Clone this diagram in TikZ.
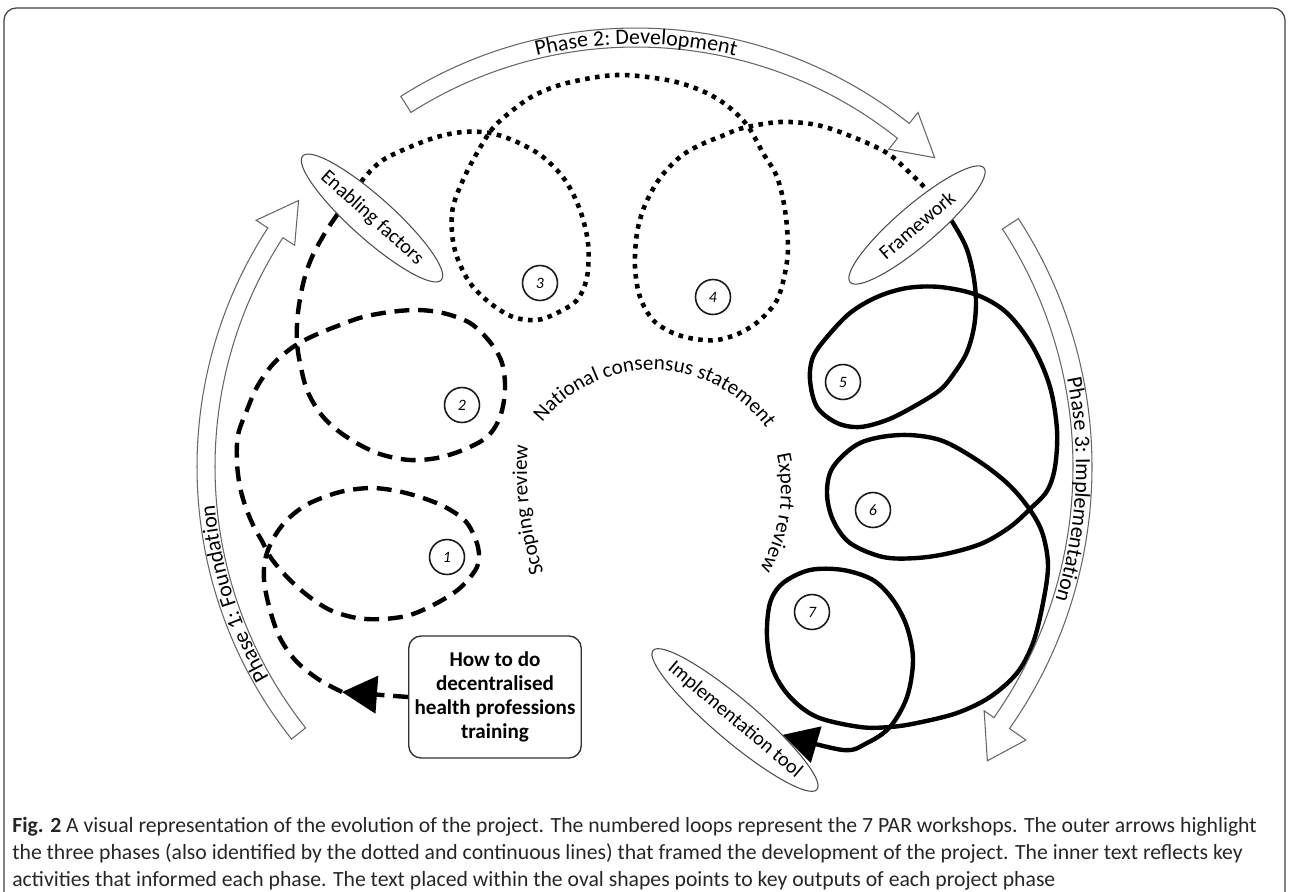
\documentclass[tikz,border=0pt]{standalone}
\usepackage{fontspec}
\setmainfont{Carlito}
\usetikzlibrary{arrows.meta, positioning, calc, shapes.geometric, decorations.text}
\pgfdeclarelayer{loops}
\pgfsetlayers{loops,main}

\newcommand\phasefont{\fontsize{12.5}{14}\selectfont}
\newcommand\innerfont{\fontsize{12}{14}\selectfont}
% hollow arc arrow: centre, tail angle, head angle, tip angle, r in, r out, barb in, barb out, tip r
\newcommand\phasearrow[9]{%
  \draw[phasearr] ($(#1)+(#2:#6)$) arc[start angle=#2, end angle=#3, radius=#6]
    -- ($(#1)+(#3:#8)$) -- ($(#1)+(#4:#9)$) -- ($(#1)+(#3:#7)$)
    -- ($(#1)+(#3:#5)$) arc[start angle=#3, end angle=#2, radius=#5] -- cycle;}

\begin{document}
\begin{tikzpicture}[x=0.02cm, y=0.02cm,
    outerframe/.style={draw=black!75, line width=0.7pt, rounded corners=7pt},
    phasearr/.style={draw=black!60, line width=0.6pt, fill=white, line join=miter},
    oval/.style={ellipse, draw=black!70, line width=0.6pt, fill=white, inner sep=0pt, font=\fontsize{11.5}{13}\selectfont},
    num/.style={circle, draw=black!90, line width=0.9pt, fill=white, minimum size=0.7cm, inner sep=0pt, font=\fontsize{9}{10}\selectfont\itshape},
    outputbox/.style={rectangle, draw=black!80, line width=0.8pt, fill=white, rounded corners=7pt, minimum width=3.28cm, minimum height=2.44cm, align=center, font=\fontsize{12}{13.8}\selectfont\bfseries},
    dashloop/.style={line width=2.5pt, dash pattern=on 8.5pt off 5pt},
    dotloop/.style={line width=2.6pt, dash pattern=on 2.6pt off 3.1pt},
    solidloop/.style={line width=2.5pt},
    bigtip/.style={-{Triangle[length=0.7cm, width=0.74cm]}},
    captext/.style={anchor=base west, inner sep=0pt, font=\fontsize{12.35}{15}\selectfont, text=black!85}]

  \useasboundingbox (0,0) rectangle (1289,-892);
  \draw[outerframe] (4,-892) |- (1285,-8) -- (1285,-892);

  % centres of the arcs
  \coordinate (c) at (636,-467);
  \coordinate (ci) at (652,-511);
  \coordinate (ce) at (625,-490);
  \coordinate (cs) at (853,-470);

  % outer phase arrows
  \phasearrow{c}{218.3}{147}{141.7}{421}{439}{407}{453}{430}
  \phasearrow{c}{122.4}{51.5}{46}{420}{439}{406}{453}{430}
  \phasearrow{c}{33}{-35}{-39.9}{437}{456}{425}{476}{458}

  \path[decorate, decoration={text along path, text align=center, text={|\phasefont|Phase 1: Foundation}}]
    ($(c)+(227.5:423)$) arc[start angle=227.5, end angle=167.5, radius=423];
  \path[decorate, decoration={text along path, text align=center, text={|\phasefont|Phase 2: Development}}]
    ($(c)+(120:423)$) arc[start angle=120, end angle=60, radius=423];
  \path[decorate, decoration={text along path, text align=center, text={|\phasefont|Phase 3: Implementation}}]
    ($(c)+(27:440)$) arc[start angle=27, end angle=-33, radius=440];

  % inner activities
  \path[decorate, decoration={text along path, text align=center, text={|\innerfont|National consensus statement}}]
    ($(ci)+(148.5:141)$) arc[start angle=148.5, end angle=28.5, radius=141];
  \path[decorate, decoration={text along path, text align=center, text={|\innerfont|Scoping review}}]
    ($(cs)+(207:326)$) arc[start angle=207, end angle=167, radius=326];
  \path[decorate, decoration={text along path, text align=center, text={|\innerfont|Expert review}}]
    ($(ce)+(21.5:156)$) arc[start angle=21.5, end angle=-38.5, radius=156];

  % outputs
  \node[outputbox] (box) at (495,-697) {How to do\\decentralised\\health professions\\training};
  \node[oval, rotate=-41.8, minimum width=3.72cm, minimum height=0.84cm] (enab) at (372,-218) {\makebox[0pt]{Enabling factors}};
  \node[oval, rotate=40.5, minimum width=3.52cm, minimum height=0.8cm] (fw) at (917,-225) {\makebox[0pt]{Framework}};
  \node[oval, rotate=-40.3, minimum width=4.3cm, minimum height=0.84cm] (impl) at (735,-720) {\makebox[0pt]{Implementation tool}};

  % workshops
  \node[num] (n1) at (447,-557) {1};
  \node[num] (n2) at (462,-405) {2};
  \node[num] (n3) at (540,-283) {3};
  \node[num] (n4) at (713,-297) {4};
  \node[num] (n5) at (843,-382) {5};
  \node[num] (n6) at (873,-510) {6};
  \node[num] (n7) at (812,-612) {7};

  \coordinate (arrowin) at (342,-692);
  \coordinate (enabin) at ($(enab.center)!0.32!(enab.west)$);
  \coordinate (fwin) at ($(fw.center)!0.34!(fw.east)$);

  \begin{pgfonlayer}{loops}
    \draw[dashloop, bigtip] (box.west) -- (arrowin);
    \draw[dashloop] plot[smooth, tension=0.55] coordinates {(arrowin) (318,-679) (296,-661) (280,-638) (270,-610)
      (264,-580) (266,-556) (276,-534) (290,-517) (310,-503) (340,-492) (370,-488) (397,-491) (423,-498)
      (447,-508) (467,-523) (478,-547) (477,-567) (460,-588) (437,-603) (410,-615) (383,-619) (357,-618)
      (330,-610) (307,-595) (287,-577) (271,-558) (262,-541) (254,-527) (246,-508) (240,-487) (237,-462)
      (238,-435) (247,-410) (257,-387) (273,-364) (293,-347) (313,-336) (340,-325) (363,-317) (390,-312)
      (417,-310) (443,-313) (470,-323) (490,-342) (502,-363) (505,-390) (500,-417) (487,-437) (463,-450)
      (437,-458) (410,-460) (383,-455) (360,-445) (337,-430) (320,-413) (307,-390) (300,-363) (297,-343)
      (297,-325) (299,-305) (304,-280) (312,-257) (325,-233) (337,-215) (enabin)};
    \draw[dotloop] plot[smooth, tension=0.55] coordinates {(enabin) (365,-177) (383,-160) (410,-147) (437,-137)
      (463,-132) (490,-133) (517,-142) (543,-157) (565,-180) (580,-210) (588,-243) (587,-277) (577,-300)
      (557,-313) (537,-320) (513,-317) (490,-303) (470,-283) (457,-257) (452,-233) (453,-207) (463,-180)
      (477,-153) (493,-128) (513,-110) (535,-95) (567,-83) (617,-75) (667,-80) (700,-90) (725,-104)
      (747,-125) (763,-153) (777,-177) (785,-210) (788,-247) (785,-273) (777,-300) (760,-320) (740,-333)
      (717,-340) (695,-339) (673,-333) (653,-320) (640,-297) (635,-267) (637,-233) (645,-205) (660,-178)
      (680,-157) (700,-145) (722,-136) (743,-128) (780,-122) (817,-125) (853,-137) (887,-153) (910,-173)
      (927,-190) (fwin)};
    \draw[solidloop, bigtip] plot[smooth, tension=0.55] coordinates {(fwin) (953,-223) (966,-247) (973,-273)
      (976,-300) (974,-327) (967,-352) (955,-372) (940,-390) (913,-407) (887,-420) (860,-427) (837,-423)
      (817,-407) (810,-380) (813,-357) (827,-337) (850,-313) (877,-297) (907,-288) (940,-287) (977,-295)
      (1007,-313) (1033,-347) (1050,-387) (1057,-430) (1055,-467) (1047,-491) (1030,-509) (1010,-527)
      (983,-543) (950,-553) (917,-558) (883,-557) (850,-543) (833,-520) (827,-493) (833,-467) (860,-443)
      (900,-435) (940,-440) (977,-460) (1007,-483) (1028,-507) (1042,-532) (1048,-565) (1043,-603)
      (1033,-643) (1017,-673) (990,-697) (957,-713) (917,-723) (890,-727) (860,-727) (817,-717) (790,-697)
      (773,-670) (767,-637) (770,-603) (783,-583) (810,-570) (843,-570) (873,-580) (893,-600) (907,-627)
      (913,-660) (907,-697) (890,-727) (867,-743) (843,-750) (impl.23)};
  \end{pgfonlayer}

  % caption
  \node[captext] (cap1) at (12,-832) {\textbf{Fig. 2} A visual representation of the evolution of the project. The numbered loops represent the 7 PAR workshops. The outer arrows highlight};
  \node[captext] (cap2) at (12,-859) {the three phases (also identified by the dotted and continuous lines) that framed the development of the project. The inner text reflects key};
  \node[captext] (cap3) at (12,-886) {activities that informed each phase. The text placed within the oval shapes points to key outputs of each project phase};
\end{tikzpicture}
\end{document}
